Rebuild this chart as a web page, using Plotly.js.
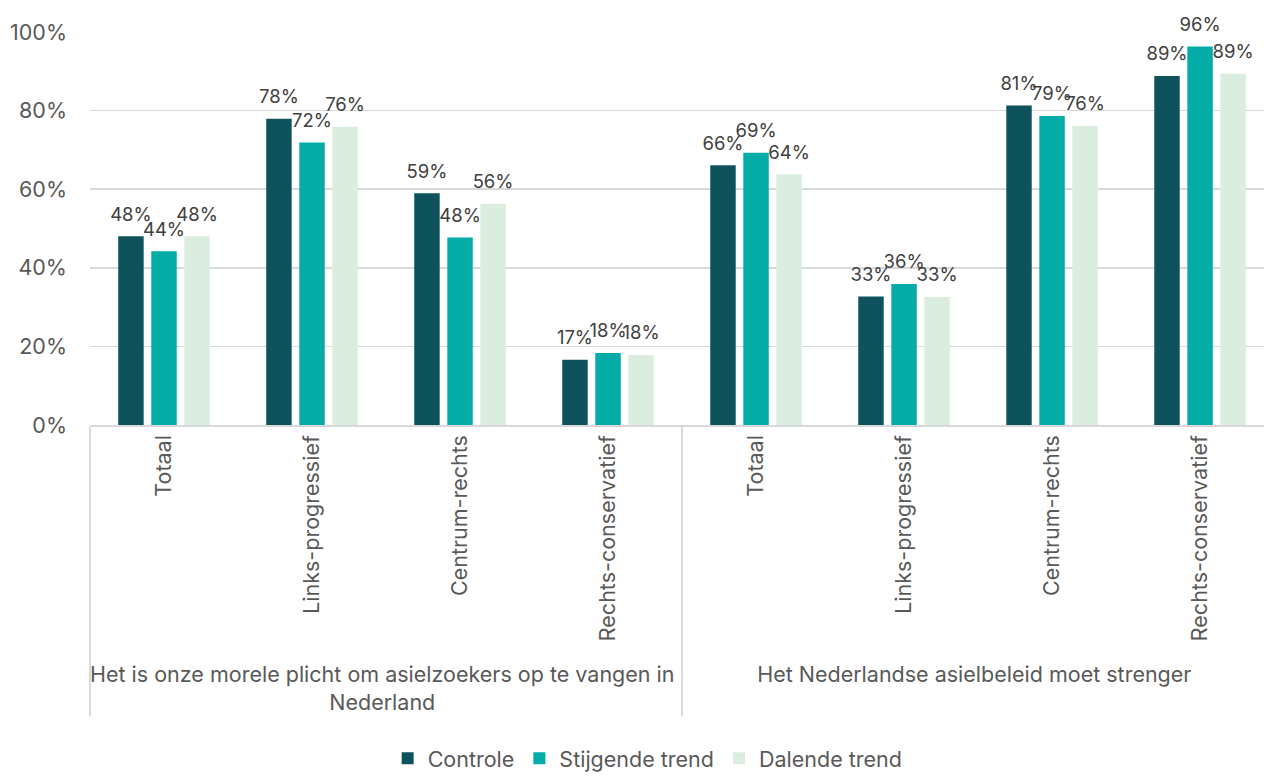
<!DOCTYPE html>
<html>
<head>
<meta charset="utf-8">
<script src="https://cdn.plot.ly/plotly-3.0.1.min.js"></script>
<style>html,body{margin:0;padding:0;background:#fff;}#chart{width:1264px;height:779px;}</style>
</head>
<body>
<div id="chart"></div>
<script>
const statements = [
  "Het is onze morele plicht om asielzoekers op te vangen in<br>Nederland",
  "Het Nederlandse asielbeleid moet strenger"
];
const groups = ["Totaal", "Links-progressief", "Centrum-rechts", "Rechts-conservatief"];
const seriesNames = ["Controle", "Stijgende trend", "Dalende trend"];
const controle  = [48.0, 77.9, 59.0, 16.6, 66.1, 32.7, 81.3, 88.8];
const stijgend  = [44.2, 71.9, 47.7, 18.3, 69.3, 35.9, 78.6, 96.3];
const dalend    = [48.0, 75.9, 56.3, 17.8, 63.8, 32.6, 76.1, 89.4];
const yTickVals = [0, 20, 40, 60, 80, 100];
const yTickText = ["0%", "20%", "40%", "60%", "80%", "100%"];
const colors = ["#0E535C", "#03ACA7", "#DAEDDE"];

const outer = [], inner = [];
statements.forEach(s => groups.forEach(g => { outer.push(s); inner.push(g); }));

const FONT = "Inter, 'Open Sans', sans-serif";
const AX = 21.5;
const series = [controle, stijgend, dalend];
const bars = series.map((vals, i) => ({
  type: "bar",
  name: seriesNames[i],
  x: [outer, inner],
  y: vals,
  marker: {color: colors[i]},
  hoverinfo: "skip"
}));
const labels = series.map((vals, i) => ({
  type: "scatter",
  mode: "markers+text",
  name: seriesNames[i] + " labels",
  showlegend: false,
  x: [outer, inner],
  y: vals,
  marker: {size: 16, opacity: 0, color: colors[i]},
  text: vals.map(v => Math.round(v) + "%"),
  textposition: "top center",
  cliponaxis: false,
  textfont: {family: FONT, size: 18.5, color: "#404040"},
  hoverinfo: "skip"
}));

const layout = {
  width: 1264, height: 779,
  margin: {l: 90, r: 0, t: 32, b: 349},
  paper_bgcolor: "#fff", plot_bgcolor: "#fff",
  font: {family: FONT, size: AX, color: "#595959"},
  barmode: "group",
  bargap: 0.33,
  bargroupgap: 0.23,
  scattermode: "group",
  scattergap: 0.33,
  showlegend: true,
  legend: {orientation: "h", x: 0.475, xanchor: "center", y: -0.848, yanchor: "middle",
           font: {family: FONT, size: AX, color: "#595959"}, traceorder: "normal"},
  xaxis: {
    type: "multicategory",
    range: [-0.5, 7.432],
    tickangle: -90,
    showline: true, linecolor: "#d9d9d9", linewidth: 1.5,
    showdividers: true, dividercolor: "#d9d9d9", dividerwidth: 1.5,
    ticks: "outside", ticklen: 11, tickcolor: "rgba(0,0,0,0)",
    showgrid: false,
    tickfont: {family: FONT, size: AX, color: "#595959"}
  },
  yaxis: {
    range: [0, 100],
    tickmode: "array",
    tickvals: yTickVals,
    ticktext: yTickText,
    showgrid: true, gridcolor: "#d9d9d9", gridwidth: 1.5,
    zeroline: false, showline: false, ticks: "",
    ticklabelstandoff: 22,
    tickfont: {family: FONT, size: AX, color: "#595959"}
  }
};

Plotly.newPlot("chart", bars.concat(labels), layout, {displayModeBar: false, staticPlot: true});
</script>
</body>
</html>
